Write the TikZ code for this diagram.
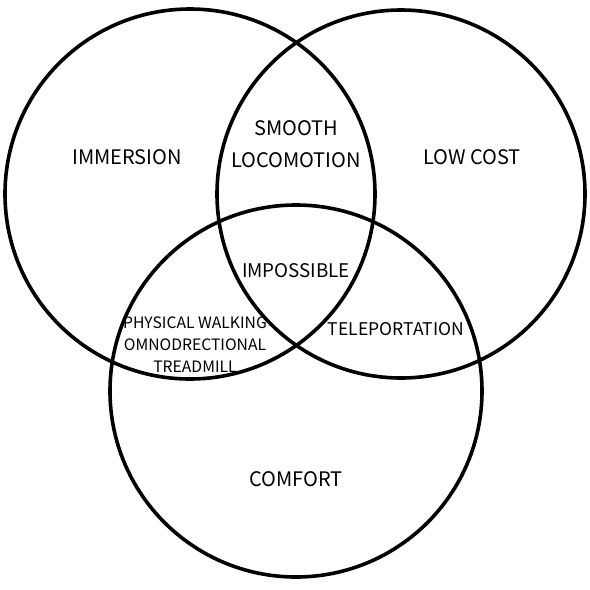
\documentclass[tikz,border=0pt]{standalone}
\usepackage{fontspec}
\setmainfont{Noto Sans CJK SC}
\begin{document}
\begin{tikzpicture}[x=1pt,y=-1pt,
  ring/.style={draw=black,line width=3.6pt},
  lbl/.style={font=\fontsize{20}{24}\selectfont,align=center,inner sep=0pt},
  small/.style={font=\fontsize{15.7}{22}\selectfont,align=center,inner sep=0pt}]
\useasboundingbox (0,0) rectangle (590,590);
\fill[white] (0,0) rectangle (590,590);
\node[ring,circle,minimum size=370pt,inner sep=0pt] (immc) at (190,194) {};
\node[ring,circle,minimum size=368pt,inner sep=0pt] (costc) at (401,194) {};
\node[ring,circle,minimum size=372pt,inner sep=0pt] (comfc) at (296,391) {};
\node[lbl] (imm) at (127,157) {IMMERSION};
\node[lbl] (cost) at (472,157) {LOW COST};
\node[lbl,font=\fontsize{20}{32}\selectfont] (smooth) at (296,144) {SMOOTH\\LOCOMOTION};
\node[lbl,font=\fontsize{18.8}{24}\selectfont] (imp) at (296,271) {IMPOSSIBLE};
\node[small] (phys) at (195,345) {PHYSICAL WALKING\\OMNODRECTIONAL\\TREADMILL};
\node[lbl,font=\fontsize{17.5}{24}\selectfont] (tele) at (396,329) {TELEPORTATION};
\node[lbl] (comf) at (296,479) {COMFORT};
\end{tikzpicture}
\end{document}
